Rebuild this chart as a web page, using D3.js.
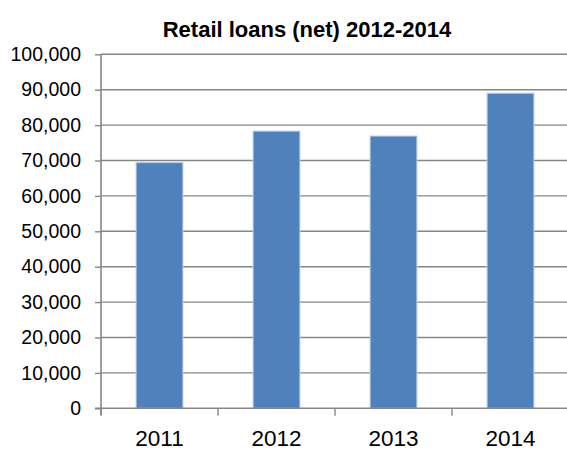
<!DOCTYPE html>
<html>
<head>
<meta charset="utf-8">
<script src="https://cdn.jsdelivr.net/npm/d3@7"></script>
<style>
  html, body { margin: 0; padding: 0; background: #fff; }
  svg { display: block; }
</style>
</head>
<body>
<svg id="chart" width="567" height="451"></svg>
<script>
// Retail loans (net), yearly totals
const years = ["2011", "2012", "2013", "2014"];
const loans = [69400, 78300, 76900, 89000];
const yTicks = [0, 10000, 20000, 30000, 40000, 50000, 60000, 70000, 80000, 90000, 100000];
const chartTitle = "Retail loans (net) 2012-2014";

const svg = d3.select("#chart");
const W = 567, H = 451;
const margin = { top: 54.3, left: 101 };
const innerW = 468;              // the last category runs just past the right edge
const innerH = 408.3 - margin.top;

const x = d3.scaleBand().domain(years).range([0, innerW]).paddingInner(0.6).paddingOuter(0.3);
const xTickScale = d3.scaleBand().domain(years).range([0, innerW]);
const y = d3.scaleLinear().domain([0, 100000]).range([innerH, 0]);

const font = "'Liberation Sans', Arial, sans-serif";
const axisGrey = "#868686";

svg.append("text")
  .attr("x", 307).attr("y", 37)
  .attr("text-anchor", "middle")
  .attr("font-family", font)
  .attr("font-weight", "bold")
  .attr("font-size", 22)
  .attr("fill", "#000")
  .text(chartTitle);

const g = svg.append("g").attr("transform", `translate(${margin.left},${margin.top})`);

// horizontal gridlines
g.append("g").selectAll("line")
  .data(yTicks.filter(d => d > 0))
  .join("line")
  .attr("x1", 0).attr("x2", W - margin.left)
  .attr("y1", d => y(d)).attr("y2", d => y(d))
  .attr("stroke", axisGrey).attr("stroke-width", 1.4);

// bars
g.append("g").selectAll("rect")
  .data(years.map((yr, i) => ({ yr, v: loans[i] })))
  .join("rect")
  .attr("x", d => x(d.yr))
  .attr("y", d => y(d.v))
  .attr("width", x.bandwidth())
  .attr("height", d => innerH - y(d.v))
  .attr("fill", "#4F81BD")
  .attr("stroke", "#B9CDE5")
  .attr("stroke-width", 1);

// y axis
const yAxis = g.append("g")
  .call(d3.axisLeft(y).tickValues(yTicks).tickSize(6).tickPadding(14)
    .tickFormat(d3.format(",")));
yAxis.select(".domain").remove();
yAxis.append("line")
  .attr("x1", 0).attr("x2", 0).attr("y1", 0).attr("y2", innerH + 7)
  .attr("stroke", axisGrey).attr("stroke-width", 1.6);
yAxis.selectAll(".tick line").attr("stroke", axisGrey).attr("stroke-width", 1.4);
yAxis.selectAll(".tick text")
  .attr("font-family", font).attr("font-size", 19.5).attr("fill", "#000");

// x axis: ticks at category boundaries
const xg = g.append("g").attr("transform", `translate(0,${innerH})`);
xg.append("line")
  .attr("x1", -6).attr("x2", W - margin.left)
  .attr("y1", 0).attr("y2", 0)
  .attr("stroke", axisGrey).attr("stroke-width", 1.6);
xg.selectAll("line.tk")
  .data(years)
  .join("line").attr("class", "tk")
  .attr("x1", d => xTickScale(d)).attr("x2", d => xTickScale(d))
  .attr("y1", 0).attr("y2", 7.5)
  .attr("stroke", axisGrey).attr("stroke-width", 1.4);
xg.selectAll("text")
  .data(years)
  .join("text")
  .attr("x", d => x(d) + x.bandwidth() / 2)
  .attr("y", 37.5)
  .attr("text-anchor", "middle")
  .attr("font-family", font)
  .attr("font-size", 22.5)
  .attr("fill", "#000")
  .text(d => d);
</script>
</body>
</html>
